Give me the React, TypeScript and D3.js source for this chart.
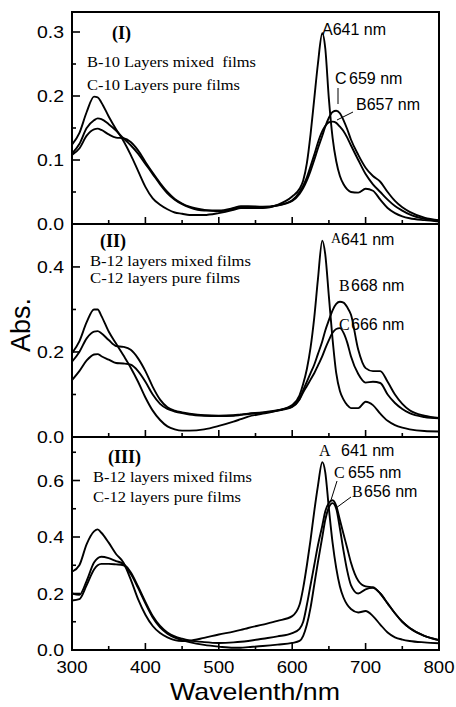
import * as d3 from "d3";

// shared wavelength grid (nm)
const wavelengths = [300, 310, 320, 330, 335, 340, 350, 360, 370, 380, 390, 400, 410, 420, 430, 440, 450, 460, 480, 500, 520, 530, 540, 560, 580, 600, 610, 615, 620, 625, 630, 635, 641, 645, 650, 655, 660, 665, 670, 675, 680, 690, 700, 710, 720, 730, 740, 750, 760, 780, 800];

// panel (I) - 10 layers
const p1A = [0.124, 0.142, 0.175, 0.199, 0.198, 0.19, 0.168, 0.148, 0.13, 0.108, 0.083, 0.058, 0.04, 0.03, 0.023, 0.018, 0.016, 0.014, 0.014, 0.017, 0.022, 0.025, 0.025, 0.025, 0.03, 0.043, 0.055, 0.068, 0.095, 0.14, 0.195, 0.25, 0.298, 0.275, 0.195, 0.135, 0.098, 0.075, 0.062, 0.054, 0.05, 0.049, 0.055, 0.052, 0.038, 0.025, 0.017, 0.012, 0.009, 0.006, 0.004];
const p1B = [0.108, 0.118, 0.138, 0.148, 0.149, 0.147, 0.14, 0.135, 0.134, 0.128, 0.115, 0.097, 0.08, 0.064, 0.05, 0.039, 0.032, 0.027, 0.022, 0.02, 0.023, 0.026, 0.026, 0.026, 0.029, 0.037, 0.05, 0.06, 0.073, 0.09, 0.108, 0.127, 0.145, 0.153, 0.159, 0.16, 0.158, 0.152, 0.145, 0.135, 0.123, 0.1, 0.078, 0.062, 0.05, 0.038, 0.028, 0.021, 0.015, 0.008, 0.005];
const p1C = [0.11, 0.125, 0.15, 0.162, 0.165, 0.164, 0.156, 0.146, 0.134, 0.123, 0.11, 0.094, 0.078, 0.062, 0.048, 0.038, 0.031, 0.026, 0.021, 0.021, 0.025, 0.028, 0.028, 0.027, 0.029, 0.036, 0.047, 0.056, 0.068, 0.083, 0.1, 0.118, 0.138, 0.152, 0.166, 0.175, 0.177, 0.173, 0.162, 0.148, 0.132, 0.108, 0.088, 0.075, 0.066, 0.05, 0.036, 0.026, 0.019, 0.01, 0.006];

// panel (II) - 12 layers
const p2A = [0.197, 0.225, 0.27, 0.3, 0.3, 0.285, 0.248, 0.22, 0.192, 0.163, 0.13, 0.093, 0.062, 0.04, 0.025, 0.018, 0.015, 0.015, 0.018, 0.026, 0.036, 0.042, 0.048, 0.055, 0.062, 0.075, 0.098, 0.125, 0.16, 0.21, 0.28, 0.37, 0.462, 0.43, 0.33, 0.23, 0.15, 0.108, 0.088, 0.075, 0.068, 0.068, 0.083, 0.075, 0.055, 0.038, 0.028, 0.022, 0.018, 0.014, 0.013];
const p2B = [0.177, 0.2, 0.232, 0.248, 0.249, 0.244, 0.228, 0.214, 0.212, 0.205, 0.185, 0.155, 0.118, 0.088, 0.07, 0.062, 0.058, 0.055, 0.051, 0.05, 0.051, 0.053, 0.055, 0.058, 0.063, 0.072, 0.09, 0.11, 0.13, 0.15, 0.17, 0.195, 0.225, 0.25, 0.275, 0.298, 0.313, 0.318, 0.316, 0.305, 0.288, 0.205, 0.162, 0.155, 0.155, 0.13, 0.1, 0.078, 0.063, 0.05, 0.045];
const p2C = [0.134, 0.155, 0.18, 0.194, 0.195, 0.19, 0.182, 0.174, 0.173, 0.17, 0.155, 0.13, 0.1, 0.078, 0.066, 0.06, 0.056, 0.053, 0.05, 0.049, 0.05, 0.052, 0.054, 0.057, 0.062, 0.071, 0.088, 0.105, 0.12, 0.135, 0.15, 0.168, 0.19, 0.208, 0.228, 0.245, 0.254, 0.256, 0.245, 0.222, 0.19, 0.148, 0.128, 0.13, 0.127, 0.1, 0.08, 0.066, 0.056, 0.047, 0.044];

// panel (III) - 12 layers
const p3A = [0.277, 0.3, 0.375, 0.42, 0.427, 0.415, 0.38, 0.34, 0.31, 0.25, 0.18, 0.125, 0.085, 0.06, 0.045, 0.035, 0.032, 0.033, 0.043, 0.055, 0.065, 0.071, 0.078, 0.09, 0.103, 0.12, 0.16, 0.22, 0.3, 0.39, 0.49, 0.58, 0.665, 0.63, 0.5, 0.38, 0.29, 0.225, 0.185, 0.16, 0.145, 0.133, 0.138, 0.12, 0.09, 0.062, 0.045, 0.037, 0.032, 0.027, 0.024];
const p3B = [0.175, 0.18, 0.23, 0.285, 0.3, 0.305, 0.305, 0.303, 0.3, 0.27, 0.22, 0.165, 0.115, 0.08, 0.058, 0.044, 0.035, 0.028, 0.018, 0.012, 0.008, 0.008, 0.01, 0.014, 0.019, 0.025, 0.032, 0.05, 0.09, 0.15, 0.23, 0.31, 0.4, 0.46, 0.505, 0.52, 0.5, 0.43, 0.35, 0.28, 0.23, 0.2, 0.215, 0.22, 0.2, 0.165, 0.13, 0.1, 0.078, 0.05, 0.035];
const p3C = [0.2, 0.195, 0.245, 0.31, 0.325, 0.33, 0.325, 0.315, 0.305, 0.275, 0.225, 0.17, 0.12, 0.085, 0.062, 0.048, 0.04, 0.034, 0.028, 0.025, 0.027, 0.029, 0.032, 0.04, 0.048, 0.06, 0.075, 0.1, 0.16, 0.23, 0.3, 0.37, 0.44, 0.49, 0.52, 0.53, 0.51, 0.46, 0.41, 0.36, 0.31, 0.245, 0.225, 0.222, 0.2, 0.165, 0.13, 0.1, 0.078, 0.05, 0.035];

const xTicks = [300, 400, 500, 600, 700, 800];
const xMinor = [350, 450, 550, 650, 750];

const p1Ticks = [0, 0.1, 0.2, 0.3];
const p1Minor = [0.05, 0.15, 0.25];
const p2Ticks = [0, 0.2, 0.4];
const p2Minor = [0.1, 0.3];
const p3Ticks = [0, 0.2, 0.4, 0.6];
const p3Minor = [0.1, 0.3, 0.5, 0.7];

const panelNames = ["(I)", "(II)", "(III)"];
const legendB = ["B-10 Layers mixed  films", "B-12 layers mixed films", "B-12 layers mixed films"];
const legendC = ["C-10 Layers pure films", "C-12 layers pure films", "C-12 layers pure films"];

const SANS = "'Liberation Sans', Arial, sans-serif";
const SERIF = "'Liberation Serif', 'Times New Roman', serif";

const W = 456;
const H = 707;
const x = d3.scaleLinear().domain([300, 800]).range([72, 439]);

const panels = [
  { top: 12, bottom: 224, max: 0.33125, series: [p1A, p1B, p1C], ticks: p1Ticks, minor: p1Minor,
    name: { x: 112, y: 39 }, leg: { x: 87, y1: 67, y2: 90, w1: 169, w2: 153 } },
  { top: 224, bottom: 437, max: 0.501, series: [p2A, p2B, p2C], ticks: p2Ticks, minor: p2Minor,
    name: { x: 100, y: 247 }, leg: { x: 90, y1: 266, y2: 283, w1: 161, w2: 150 } },
  { top: 437, bottom: 650, max: 0.754, series: [p3A, p3B, p3C], ticks: p3Ticks, minor: p3Minor,
    name: { x: 108, y: 463 }, leg: { x: 93, y1: 482, y2: 502, w1: 159, w2: 148 } },
];

const fmt = d3.format(".1f");

function Panel({ p, last }: { p: (typeof panels)[number]; last: boolean }) {
  const y = d3.scaleLinear().domain([0, p.max]).range([p.bottom, p.top]);
  const line = d3
    .line<number>()
    .x((_, i) => x(wavelengths[i]))
    .y((d) => y(d))
    .curve(d3.curveMonotoneX);
  return (
    <g>
      {p.series.map((s, i) => (
        <path key={i} d={line(s) || ""} fill="none" stroke="#000" strokeWidth={1.9} strokeLinejoin="round" />
      ))}
      {xTicks.map((t) => (
        <line key={"xt" + t} x1={x(t)} x2={x(t)} y1={p.bottom} y2={p.bottom - 7} stroke="#000" strokeWidth={1.6} />
      ))}
      {xMinor.map((t) => (
        <line key={"xm" + t} x1={x(t)} x2={x(t)} y1={p.bottom} y2={p.bottom - 4} stroke="#000" strokeWidth={1.6} />
      ))}
      {p.ticks.map((t) => (
        <g key={"yt" + t}>
          <line x1={72} x2={80} y1={y(t)} y2={y(t)} stroke="#000" strokeWidth={1.6} />
          <text x={64} y={y(t) + 6} textAnchor="end" fontFamily={SANS} fontSize={17}
            textLength={27} lengthAdjust="spacingAndGlyphs">{fmt(t)}</text>
        </g>
      ))}
      {p.minor.map((t) => (
        <line key={"ym" + t} x1={72} x2={76} y1={y(t)} y2={y(t)} stroke="#000" strokeWidth={1.6} />
      ))}
      {last &&
        xTicks.map((t) => (
          <text key={"xl" + t} x={x(t)} y={673} textAnchor="middle" fontFamily={SANS} fontSize={17}
            textLength={31} lengthAdjust="spacingAndGlyphs">{t}</text>
        ))}
      <rect x={72} y={p.top} width={367} height={p.bottom - p.top} fill="none" stroke="#000" strokeWidth={2} />
    </g>
  );
}

export default function App() {
  return (
    <svg width={W} height={H} viewBox={`0 0 ${W} ${H}`} style={{ position: "absolute", left: 0, top: 0, background: "#fff" }}>
      <rect width={W} height={H} fill="#fff" />
      {panels.map((p, i) => (
        <Panel key={i} p={p} last={i === panels.length - 1} />
      ))}

      {panels.map((p, i) => (
        <g key={"lab" + i} fontFamily={SERIF}>
          <text x={p.name.x} y={p.name.y} fontSize={18} fontWeight="bold">{panelNames[i]}</text>
          <text x={p.leg.x} y={p.leg.y1} fontSize={15} style={{ whiteSpace: "pre" }}
            textLength={p.leg.w1} lengthAdjust="spacingAndGlyphs">{legendB[i]}</text>
          <text x={p.leg.x} y={p.leg.y2} fontSize={15} textLength={p.leg.w2} lengthAdjust="spacingAndGlyphs">{legendC[i]}</text>
        </g>
      ))}

      {/* panel I peak labels */}
      <g fontFamily={SANS} fontSize={16}>
        <text x={322} y={35}>A641 nm</text>
        <text x={335} y={84}>C<tspan x={349}>659 nm</tspan></text>
        <text x={356} y={110}>B657 nm</text>
      </g>
      <line x1={338} y1={88} x2={338} y2={104} stroke="#000" strokeWidth={1} />
      <line x1={353} y1={112} x2={337} y2={120} stroke="#000" strokeWidth={1} />

      {/* panel II peak labels */}
      <g fontSize={16}>
        <text x={331} y={243} fontFamily={SERIF} fontSize={14}>A</text>
        <text x={341} y={245} fontFamily={SANS}>641 nm</text>
        <text x={339} y={291} fontFamily={SERIF}>B</text>
        <text x={351} y={291} fontFamily={SANS}>668 nm</text>
        <text x={339} y={330} fontFamily={SERIF}>C</text>
        <text x={351} y={330} fontFamily={SANS}>666 nm</text>
      </g>

      {/* panel III peak labels */}
      <g fontSize={16}>
        <text x={319} y={456} fontFamily={SERIF}>A</text>
        <text x={341} y={456} fontFamily={SANS}>641 nm</text>
        <text x={334} y={478} fontFamily={SERIF}>C</text>
        <text x={348} y={478} fontFamily={SANS}>655 nm</text>
        <text x={352} y={497} fontFamily={SERIF}>B</text>
        <text x={364} y={497} fontFamily={SANS}>656 nm</text>
      </g>
      <line x1={337} y1={481} x2={331} y2={500} stroke="#000" strokeWidth={1} />
      <line x1={351} y1={497} x2={336} y2={508} stroke="#000" strokeWidth={1} />

      <text transform="translate(30,325) rotate(-90)" textAnchor="middle" fontFamily={SANS} fontSize={27}>Abs.</text>
      <text x={255} y={700} textAnchor="middle" fontFamily={SANS} fontSize={24}
        textLength={170} lengthAdjust="spacingAndGlyphs">Wavelenth/nm</text>
    </svg>
  );
}
